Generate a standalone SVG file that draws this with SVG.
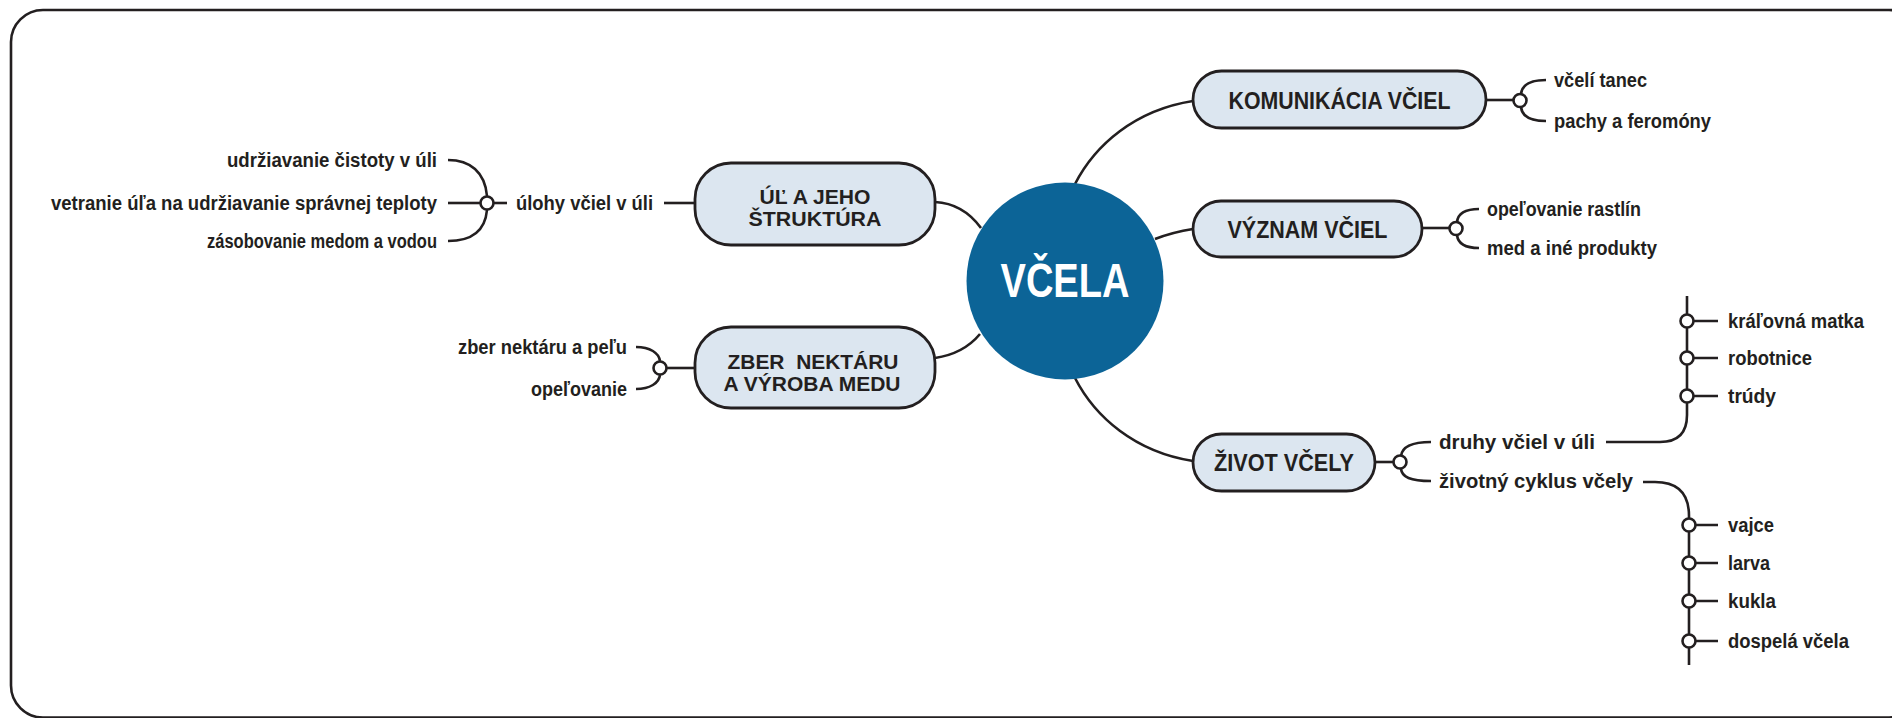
<svg xmlns="http://www.w3.org/2000/svg" width="1892" height="718" viewBox="0 0 1892 718">
<style>
.ln{fill:none;stroke:#231f20;stroke-width:2.6;stroke-linecap:butt}
.nd{fill:#ffffff;stroke:#231f20;stroke-width:2.6}
.bx{fill:#dce6f0;stroke:#231f20;stroke-width:2.8}
.t{font-family:"Liberation Sans",Arial,sans-serif;font-weight:bold;fill:#231f20}
.lf{font-size:20px}
.bt{font-size:24px;text-anchor:middle}
.bt2{font-size:20px;text-anchor:middle}
</style>
<rect x="11" y="10" width="1910" height="707.5" rx="32" fill="none" stroke="#231f20" stroke-width="2.6"/>
<g id="connectors">
<path class="ln" d="M1075,184 C1095,145 1135,110 1193,101"/>
<path class="ln" d="M1155,239 C1168,234 1180,231 1193,229"/>
<path class="ln" d="M1075,378 C1095,417 1135,452 1193,461"/>
<path class="ln" d="M981,228 C970,213 955,203 935,202"/>
<path class="ln" d="M980,334 C970,346 955,355 935,358"/>
<path class="ln" d="M1487,100 H1513"/>
<path class="ln" d="M1521,94 C1522,85 1530,80 1546,80"/>
<path class="ln" d="M1521,107 C1522,116 1530,121 1546,121"/>
<path class="ln" d="M1422,228 H1449"/>
<path class="ln" d="M1457,222 C1458,213 1466,209 1479,209"/>
<path class="ln" d="M1457,235 C1458,244 1466,248 1479,248"/>
<path class="ln" d="M1375,462 H1393"/>
<path class="ln" d="M1401,456 C1402,447 1410,442 1431,442"/>
<path class="ln" d="M1401,469 C1402,477 1410,481 1431,481"/>
<path class="ln" d="M1606,442 H1660 Q1687,442 1687,415 V296"/>
<path class="ln" d="M1694,321 H1718 M1694,358 H1718 M1694,396 H1718"/>
<path class="ln" d="M1643,482 H1655 Q1689,482 1689,516 V665"/>
<path class="ln" d="M1696,525 H1718 M1696,563 H1718 M1696,601 H1718 M1696,641 H1718"/>
<path class="ln" d="M695,203 H664"/>
<path class="ln" d="M507,203 H494"/>
<path class="ln" d="M480,203 H448"/>
<path class="ln" d="M448,160 C470,160 485,172 487,196"/>
<path class="ln" d="M448,241 C470,241 485,232 487,210"/>
<path class="ln" d="M695,368 H667"/>
<path class="ln" d="M636,347 C650,347 659,353 660,361"/>
<path class="ln" d="M636,389 C650,389 659,383 660,375"/>
</g>
<g id="junctions">
<circle class="nd" cx="1520" cy="100.5" r="6.5"/>
<circle class="nd" cx="1456" cy="228.5" r="6.5"/>
<circle class="nd" cx="1400" cy="462" r="6.5"/>
<circle class="nd" cx="1687" cy="321" r="6.5"/>
<circle class="nd" cx="1687" cy="358" r="6.5"/>
<circle class="nd" cx="1687" cy="396" r="6.5"/>
<circle class="nd" cx="1689" cy="525" r="6.5"/>
<circle class="nd" cx="1689" cy="563" r="6.5"/>
<circle class="nd" cx="1689" cy="601" r="6.5"/>
<circle class="nd" cx="1689" cy="641" r="6.5"/>
<circle class="nd" cx="487" cy="203" r="6.5"/>
<circle class="nd" cx="660" cy="368" r="6.5"/>
</g>
<g id="center">
<circle cx="1065" cy="281" r="98.5" fill="#0c6497"/>
<text x="1065" y="297" class="t" textLength="129" lengthAdjust="spacingAndGlyphs" style="font-size:48px;text-anchor:middle;fill:#ffffff">VČELA</text>
</g>
<g id="n-komunikacia">
<rect class="bx" x="1193" y="71" width="293" height="57" rx="28.5"/>
<text class="t bt" x="1339.5" y="108.5" textLength="222" lengthAdjust="spacingAndGlyphs">KOMUNIKÁCIA VČIEL</text>
</g>
<g id="n-vyznam">
<rect class="bx" x="1193" y="201" width="229" height="56" rx="28"/>
<text class="t bt" x="1307.5" y="238" textLength="160" lengthAdjust="spacingAndGlyphs">VÝZNAM VČIEL</text>
</g>
<g id="n-zivot">
<rect class="bx" x="1193" y="434" width="182" height="57" rx="28.5"/>
<text class="t bt" x="1284" y="471" textLength="140" lengthAdjust="spacingAndGlyphs">ŽIVOT VČELY</text>
</g>
<g id="n-ul">
<rect class="bx" x="695" y="163" width="240" height="82" rx="36"/>
<text class="t bt2" x="815" y="203.5" textLength="111" lengthAdjust="spacingAndGlyphs">ÚĽ A JEHO</text>
<text class="t bt2" x="815" y="226" textLength="133" lengthAdjust="spacingAndGlyphs">ŠTRUKTÚRA</text>
</g>
<g id="n-zber">
<rect class="bx" x="695" y="327" width="240" height="81" rx="36"/>
<text class="t bt2" x="813" y="368.5" textLength="171" lengthAdjust="spacingAndGlyphs">ZBER&#160; NEKTÁRU</text>
<text class="t bt2" x="812" y="391" textLength="177" lengthAdjust="spacingAndGlyphs">A VÝROBA MEDU</text>
</g>
<g id="leaves">
<text class="t lf" x="1554" y="87" textLength="93" lengthAdjust="spacingAndGlyphs">včelí tanec</text>
<text class="t lf" x="1554" y="128" textLength="157" lengthAdjust="spacingAndGlyphs">pachy a feromóny</text>
<text class="t lf" x="1487" y="216" textLength="154" lengthAdjust="spacingAndGlyphs">opeľovanie rastlín</text>
<text class="t lf" x="1487" y="255" textLength="170" lengthAdjust="spacingAndGlyphs">med a iné produkty</text>
<text class="t lf" x="1439" y="449" textLength="156" lengthAdjust="spacingAndGlyphs">druhy včiel v úli</text>
<text class="t lf" x="1439" y="488" textLength="194" lengthAdjust="spacingAndGlyphs">životný cyklus včely</text>
<text class="t lf" x="1728" y="328" textLength="136" lengthAdjust="spacingAndGlyphs">kráľovná matka</text>
<text class="t lf" x="1728" y="365" textLength="84" lengthAdjust="spacingAndGlyphs">robotnice</text>
<text class="t lf" x="1728" y="403" textLength="48" lengthAdjust="spacingAndGlyphs">trúdy</text>
<text class="t lf" x="1728" y="532" textLength="46" lengthAdjust="spacingAndGlyphs">vajce</text>
<text class="t lf" x="1728" y="570" textLength="42" lengthAdjust="spacingAndGlyphs">larva</text>
<text class="t lf" x="1728" y="608" textLength="48" lengthAdjust="spacingAndGlyphs">kukla</text>
<text class="t lf" x="1728" y="648" textLength="121" lengthAdjust="spacingAndGlyphs">dospelá včela</text>
<text class="t lf" x="437" y="167" text-anchor="end" textLength="210" lengthAdjust="spacingAndGlyphs">udržiavanie čistoty v úli</text>
<text class="t lf" x="437" y="210" text-anchor="end" textLength="386" lengthAdjust="spacingAndGlyphs">vetranie úľa na udržiavanie správnej teploty</text>
<text class="t lf" x="437" y="248" text-anchor="end" textLength="230" lengthAdjust="spacingAndGlyphs">zásobovanie medom a vodou</text>
<text class="t lf" x="653" y="210" text-anchor="end" textLength="137" lengthAdjust="spacingAndGlyphs">úlohy včiel v úli</text>
<text class="t lf" x="627" y="354" text-anchor="end" textLength="169" lengthAdjust="spacingAndGlyphs">zber nektáru a peľu</text>
<text class="t lf" x="627" y="396" text-anchor="end" textLength="96" lengthAdjust="spacingAndGlyphs">opeľovanie</text>
</g>
</svg>
